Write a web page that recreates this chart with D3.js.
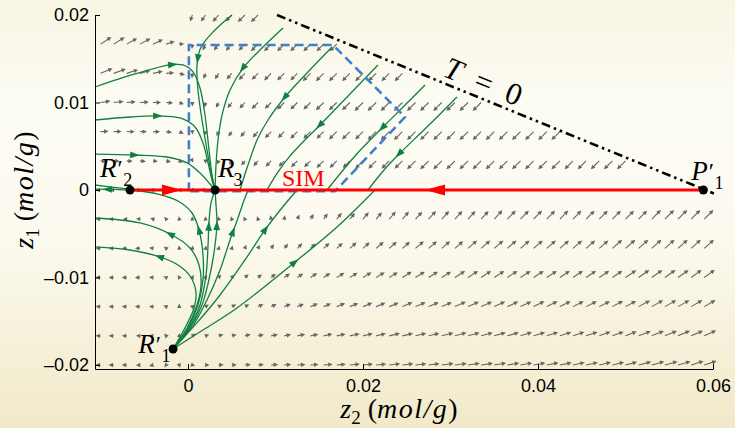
<!DOCTYPE html>
<html>
<head>
<meta charset="utf-8">
<script src="https://cdn.jsdelivr.net/npm/d3@7/dist/d3.min.js"></script>
<style>
html,body{margin:0;padding:0;background:#fbf8ea;}
svg{display:block;}
</style>
</head>
<body>
<svg id="chart" width="735" height="428"></svg>
<script>
// ================= DATA =================
const n = null;
const xTickValues = [0, 0.02, 0.04, 0.06];
const xTickLabels = ["0", "0.02", "0.04", "0.06"];
const yTickValues = [-0.02, -0.01, 0, 0.01, 0.02];
const yTickLabels = ["\u20130.02", "\u20130.01", "0", "0.01", "0.02"];

// quiver grid (z2 columns, z1 rows)
const z2Grid = [-0.01,-0.0085,-0.007,-0.0055,-0.004,-0.0025,-0.001,0.0005,0.002,0.0035,
  0.005,0.0065,0.008,0.0095,0.011,0.0125,0.014,0.0155,0.017,0.0185,
  0.02,0.0215,0.023,0.0245,0.026,0.0275,0.029,0.0305,0.032,0.0335,
  0.035,0.0365,0.038,0.0395,0.041,0.0425,0.044,0.0455,0.047,0.0485,
  0.05,0.0515,0.053,0.0545,0.056,0.0575,0.059];
const z1Grid = [0.02,0.01667,0.01333,0.01,0.00667,0.00333,0,-0.00333,-0.00667,-0.01,-0.01333,-0.01667,-0.02];

// arrow direction (degrees, counter-clockwise from +z2) per row
const fieldAngle = [
 [n,n,n,n,n,n,n,250,235,228, 226,225,225,n,n,n,n,n,n,n, n,n,n,n,n,n,n,n,n,n, n,n,n,n,n,n,n,n,n,n, n,n,n,n,n,n,n],
 [33,32,30,28,25,18,5,265,245,233, 228,226,225,225,225,225,225,225,225,n, n,n,n,n,n,n,n,n,n,n, n,n,n,n,n,n,n,n,n,n, n,n,n,n,n,n,n],
 [22,20,18,15,12,5,-15,265,252,238, 230,227,226,225,225,225,225,225,225,225, 225,225,225,225,n,n,n,n,n,n, n,n,n,n,n,n,n,n,n,n, n,n,n,n,n,n,n],
 [8,6,5,3,0,-5,-20,270,258,243, 233,228,226,225,225,225,225,225,225,225, 225,225,225,225,225,225,225,225,225,225, n,n,n,n,n,n,n,n,n,n, n,n,n,n,n,n,n],
 [2,1,0,0,-2,-8,-25,275,262,245, 235,230,227,226,225,225,225,225,225,225, 225,225,225,225,225,225,225,225,225,225, 225,225,225,225,225,225,n,n,n,n, n,n,n,n,n,n,n],
 [-3,-3,-4,-5,-8,-12,-30,300,275,250, 238,232,229,227,226,225,225,225,225,225, 225,225,225,225,225,225,225,225,225,225, 225,225,225,225,225,225,225,225,225,225, 225,n,n,n,n,n,n],
 [180,180,180,0,0,0,0,0,0,n, n,n,n,n,n,n,n,n,n,n, n,n,n,n,n,n,n,n,n,n, n,n,n,n,n,n,n,n,n,n, n,n,n,n,n,n,n],
 [180,180,180,175,160,130,100,95,95,100, 110,115,110,100,80,65,58,54,52,51, 50,50,49,49,48,48,48,47,47,47, 47,46,46,46,46,46,46,45,45,45, 45,45,45,45,45,45,45],
 [180,180,180,178,170,140,100,80,75,75, 72,68,60,54,49,46,44,43,42,42, 42,41,41,41,41,41,41,41,41,41, 41,41,41,41,41,41,41,41,41,41, 41,42,42,42,42,42,42],
 [180,180,180,180,178,160,120,65,55,50, 45,42,39,37,35,34,33,33,32,32, 32,32,32,32,32,32,32,32,33,33, 33,33,33,33,33,34,34,34,34,34, 34,35,35,35,35,36,36],
 [180,180,180,180,178,160,90,40,32,28, 26,25,24,23,22,22,22,22,22,22, 22,22,22,23,23,23,23,24,24,24, 25,25,25,26,26,26,27,27,27,28, 28,28,29,29,29,30,30],
 [180,180,180,180,175,135,80,35,20,16, 14,13,12,12,12,12,12,12,12,12, 13,13,13,13,14,14,14,15,15,15, 16,16,17,17,18,18,19,19,20,20, 21,21,22,22,23,23,24],
 [180,180,180,185,195,235,285,340,0,2, 3,4,4,4,4,4,4,4,5,5, 5,5,6,6,6,7,7,7,8,8, 9,9,10,10,11,11,12,12,13,13, 14,14,15,15,16,17,18]
];
// arrow length per row
const fieldLength = [
 [n,n,n,n,n,n,n,7,8,9, 9,10,10,n,n,n,n,n,n,n, n,n,n,n,n,n,n,n,n,n, n,n,n,n,n,n,n,n,n,n, n,n,n,n,n,n,n],
 [13,13,12,12,11,9,5,5,7,8, 9,9,10,10,10,10,10,10,10,n, n,n,n,n,n,n,n,n,n,n, n,n,n,n,n,n,n,n,n,n, n,n,n,n,n,n,n],
 [13,13,12,11,10,8,6,5,6,7, 8,9,9,10,10,10,11,11,11,11, 11,11,11,11,n,n,n,n,n,n, n,n,n,n,n,n,n,n,n,n, n,n,n,n,n,n,n],
 [10,10,9,9,8,7,5,4,5,6, 7,8,9,9,10,10,10,11,11,11, 12,12,12,12,12,12,12,12,12,12, n,n,n,n,n,n,n,n,n,n, n,n,n,n,n,n,n],
 [8,8,8,7,7,6,5,3,4,5, 6,7,8,9,9,10,10,10,11,11, 11,12,12,12,12,12,12,12,12,12, 12,12,12,12,12,12,n,n,n,n, n,n,n,n,n,n,n],
 [6,6,6,6,5,5,4,2,3,4, 5,6,7,8,8,9,9,10,10,10, 11,11,11,11,12,12,12,12,12,12, 12,12,12,12,12,12,12,12,12,12, 12,n,n,n,n,n,n],
 [5,4,2,2,4,5,5,4,2,n, n,n,n,n,n,n,n,n,n,n, n,n,n,n,n,n,n,n,n,n, n,n,n,n,n,n,n,n,n,n, n,n,n,n,n,n,n],
 [5,5,4,4,3,3,3,3,3,3, 3,3,3,4,4,5,6,7,8,8, 9,9,10,10,10,11,11,11,11,11, 12,12,12,12,12,12,12,12,12,12, 12,12,13,13,13,13,13],
 [5,5,5,5,4,3,3,3,3,3, 3,4,4,5,6,7,7,8,8,9, 9,10,10,10,11,11,11,11,12,12, 12,12,12,12,12,12,12,12,12,13, 13,13,13,13,13,13,13],
 [5,5,5,5,4,3,3,3,3,4, 4,5,5,6,7,7,8,8,9,9, 10,10,10,11,11,11,11,12,12,12, 12,12,12,12,12,12,12,12,12,12, 13,13,13,13,13,13,13],
 [5,5,5,5,4,3,3,3,4,4, 5,5,6,6,7,7,8,8,9,9, 10,10,10,11,11,11,11,12,12,12, 12,12,12,12,12,12,12,12,12,12, 12,13,13,13,13,13,13],
 [5,5,5,4,4,3,3,4,4,5, 5,6,6,7,7,8,8,9,9,10, 10,10,11,11,11,11,12,12,12,12, 12,12,12,12,12,12,12,12,12,12, 12,13,13,13,13,13,13],
 [5,5,5,4,4,3,3,3,4,5, 5,6,6,7,7,8,8,9,9,10, 10,10,11,11,11,11,12,12,12,12, 12,12,12,12,12,12,12,12,12,12, 12,13,13,13,13,13,13]
];

// trajectories [z2, z1], ordered along the flow
const trajectories = [
 [[-0.01063,0.01177],[-0.00606,0.01326],[-0.00206,0.01429],[-0.00057,0.01429],[0.00057,0.01349],[0.00137,0.01166],[0.00194,0.00857],[0.0024,0.00457],[0.00274,0.00171],[0.00309,0]],
 [[-0.01063,0.008],[-0.00663,0.00834],[-0.00354,0.00846],[-0.00091,0.00823],[0.0008,0.0072],[0.00171,0.00537],[0.00229,0.00309],[0.00274,0.00114],[0.00309,0]],
 [[-0.01063,0.00411],[-0.00606,0.004],[-0.0024,0.00377],[-0.00011,0.00309],[0.00149,0.00183],[0.00251,0.00069],[0.00309,0]],
 [[0.00503,0.02],[0.00309,0.01829],[0.00149,0.01634],[0.00103,0.01429],[0.00114,0.01143],[0.0016,0.008],[0.00217,0.00457],[0.00263,0.00206],[0.00309,0]],
 [[0.01086,0.01851],[0.00846,0.01623],[0.00629,0.01394],[0.0048,0.01143],[0.00389,0.00857],[0.00343,0.00571],[0.0032,0.00286],[0.00309,0]],
 [[0.01646,0.01634],[0.01371,0.01349],[0.01109,0.01063],[0.00914,0.008],[0.00789,0.00571],[0.00686,0.00286],[0.00629,0.00114],[0.00594,0]],
 [[0.02171,0.01429],[0.0184,0.01086],[0.01509,0.00743],[0.01303,0.00537],[0.01166,0.00389],[0.01029,0.00206],[0.00903,0]],
 [[0.02709,0.012],[0.02469,0.0096],[0.02229,0.0072],[0.01909,0.00389],[0.01589,0]],
 [[0.03074,0.01063],[0.02743,0.00731],[0.024,0.004],[0.0224,0.00229],[0.02057,0]],
 [[-0.00171,-0.01817],[0.00171,-0.016],[0.0056,-0.01349],[0.01223,-0.00823],[0.01703,-0.00423],[0.02137,0]],
 [[-0.00171,-0.01817],[0.00091,-0.01531],[0.00366,-0.012],[0.00651,-0.008],[0.0088,-0.00457],[0.01063,-0.00217],[0.01246,0]],
 [[-0.00171,-0.01817],[0.00046,-0.01566],[0.00217,-0.01257],[0.00366,-0.00914],[0.0048,-0.00571],[0.00571,-0.0032],[0.00629,-0.00149],[0.00686,0]],
 [[-0.00171,-0.01817],[0.00023,-0.01577],[0.0016,-0.01314],[0.00251,-0.00971],[0.00309,-0.00629],[0.00331,-0.00366],[0.0032,-0.00171],[0.00309,0]],
 [[-0.00171,-0.01817],[0.00011,-0.01577],[0.00137,-0.01314],[0.00206,-0.00971],[0.00229,-0.00629],[0.0024,-0.00366],[0.00263,-0.00149],[0.00309,0]],
 [[-0.00171,-0.01817],[0,-0.01577],[0.00114,-0.01314],[0.00171,-0.01029],[0.00171,-0.00743],[0.00126,-0.00457],[0.00046,-0.00263],[-0.00114,-0.00126],[-0.00343,-0.00046],[-0.00606,-0.00006],[-0.00834,0.00006],[-0.01063,0.00011]],
 [[-0.00171,-0.01817],[-0.00011,-0.01577],[0.00103,-0.01314],[0.00149,-0.01086],[0.00126,-0.00857],[0.00023,-0.00663],[-0.00206,-0.00503],[-0.00549,-0.00377],[-0.01063,-0.0032]],
 [[-0.00171,-0.01817],[-0.00023,-0.01554],[0.00069,-0.01349],[0.00091,-0.01166],[0.00023,-0.00983],[-0.00114,-0.00857],[-0.0032,-0.00766],[-0.00663,-0.00686],[-0.01063,-0.00651]],
 [[-0.00663,0.0001],[-0.0085,0.0003],[-0.01063,0.00057]]
];
const trajectoryArrowAt = [[0.36],[0.37],[0.3],[0.3],[0.31],[0.4],[0.5],[0.42],[0.63],[0.58],[0.75],[0.75],[0.79],[0.78],[0.51,0.95],[0.635],[0.64],[]];

const simLine = [[-0.00663,0],[0.0589,0]];
const simArrowTips = [-0.00069, 0.02709];
const simArrowDirs = [1, -1];
const tZeroLine = [[0.01017,0.02],[0.0601,-0.0004]];
const boxPolygon = [[0.0001,-0.00015],[0.0001,0.01657],[0.01657,0.01657],[0.0248,0.00834],[0.0168,-0.00015]];
const equilibria = [[-0.00663,0],[0.00309,0],[-0.00171,-0.01817],[0.0589,0]];
const pointLetters = ["R","R","R","P"];
const pointPrimes = [true,false,true,true];
const pointSubs = ["2","3","1","1"];
const labelAnchors = [[-0.01005,0.00149],[0.00343,0.00149],[-0.0057,-0.01863],[0.0575,0.00114]];
const simLabelAt = [0.01074,0.00046];
const tLabelAt = [0.0333,0.0113];

// ================= DRAW =================
const W = 735, H = 428;
const GREEN = "#0f8040", GRAY = "#666666", BLUE = "#3f80c6", RED = "#ff0000";
const mathFont = "'Liberation Serif','Times New Roman',serif";
const sansFont = "'Liberation Sans',Arial,Helvetica,sans-serif";
const svg = d3.select("#chart");
const defs = svg.append("defs");
const grad = defs.append("linearGradient").attr("id","bg").attr("x1",0).attr("y1",0).attr("x2",0).attr("y2",1);
[[0,"#f8f5e3"],[0.25,"#fdfcf4"],[0.55,"#fcfaef"],[1,"#f1e9c8"]].forEach(([o,c])=>grad.append("stop").attr("offset",o).attr("stop-color",c));
svg.append("rect").attr("width",W).attr("height",H).attr("fill","url(#bg)");

const x = d3.scaleLinear().domain([-0.01063,0.06]).range([95,713]);
const y = d3.scaleLinear().domain([-0.02046,0.02]).range([369,15]);
const len = d3.scaleLinear().domain([0,13]).range([0,13]);

// quiver
const gq = svg.append("g");
z1Grid.forEach((v1,r)=>{
  z2Grid.forEach((v2,k)=>{
    const a = fieldAngle[r][k], m = fieldLength[r][k];
    if(a==null || m==null) return;
    const x0 = x(v2), y0 = y(v1), L = len(m);
    const t = a*Math.PI/180, c = Math.cos(t), s = -Math.sin(t);
    const x1 = x0+L*c, y1 = y0+L*s;
    const h = 4.4, w = 2.2;
    gq.append("line").attr("x1",x0).attr("y1",y0).attr("x2",x1-c*h*0.5).attr("y2",y1-s*h*0.5)
      .attr("stroke",GRAY).attr("stroke-width",1.1);
    gq.append("path").attr("d",`M${x1},${y1}L${x1-h*c-w*s},${y1-h*s+w*c}L${x1-h*c+w*s},${y1-h*s-w*c}Z`).attr("fill",GRAY);
  });
});

// trajectories
const curve = d3.line().x(d=>x(d[0])).y(d=>y(d[1])).curve(d3.curveCatmullRom.alpha(0.5));
const gt = svg.append("g");
trajectories.forEach((pts,i)=>{
  const p = gt.append("path").attr("d",curve(pts)).attr("fill","none").attr("stroke",GREEN).attr("stroke-width",1.3);
  const node = p.node(), tot = node.getTotalLength();
  trajectoryArrowAt[i].forEach(f=>{
    const l = f*tot;
    const p1 = node.getPointAtLength(Math.max(0,l-2)), p2 = node.getPointAtLength(Math.min(tot,l+2));
    const ang = Math.atan2(p2.y-p1.y,p2.x-p1.x)*180/Math.PI;
    gt.append("path").attr("d","M5,0L-4.5,-3.4L-4.5,3.4Z")
      .attr("transform",`translate(${(p1.x+p2.x)/2},${(p1.y+p2.y)/2}) rotate(${ang})`).attr("fill",GREEN);
  });
});

// dashed region
svg.append("path").attr("d",d3.line().x(d=>x(d[0])).y(d=>y(d[1]))(boxPolygon)+"Z")
  .attr("fill","none").attr("stroke",BLUE).attr("stroke-width",2.6).attr("stroke-dasharray","9,5");

// SIM
svg.append("line").attr("x1",x(simLine[0][0])).attr("y1",y(simLine[0][1])).attr("x2",x(simLine[1][0])).attr("y2",y(simLine[1][1]))
  .attr("stroke",RED).attr("stroke-width",3);
simArrowTips.forEach((tip,i)=>{
  const tx = x(tip), ty = y(0), d = simArrowDirs[i];
  svg.append("path").attr("d",`M${tx},${ty}L${tx-d*20},${ty-5.5}L${tx-d*20},${ty+5.5}Z`).attr("fill",RED);
});

// T = 0 line
svg.append("line").attr("x1",x(tZeroLine[0][0])).attr("y1",y(tZeroLine[0][1])).attr("x2",x(tZeroLine[1][0])).attr("y2",y(tZeroLine[1][1]))
  .attr("stroke","#000").attr("stroke-width",2.6).attr("stroke-dasharray","9,4,2.5,4,2.5,4");

// points
svg.append("g").selectAll("circle").data(equilibria).join("circle")
  .attr("cx",d=>x(d[0])).attr("cy",d=>y(d[1])).attr("r",4.5).attr("fill","#000");

// point labels (one text element each: letter, prime, subscript)
equilibria.forEach((pt,i)=>{
  const ax = x(labelAnchors[i][0]), ay = y(labelAnchors[i][1]);
  const t = svg.append("text").attr("x",ax).attr("y",ay).attr("font-family",mathFont).attr("font-size",27);
  t.append("tspan").attr("font-style","italic").text(pointLetters[i]);
  if(pointPrimes[i]){
    t.append("tspan").attr("font-size",24).attr("dx",1).attr("dy",-1).text("\u2032");
    t.append("tspan").attr("font-size",18).attr("dx",0.5).attr("dy",10).text(pointSubs[i]);
  } else {
    t.append("tspan").attr("font-size",18).attr("dx",-1).attr("dy",9).text(pointSubs[i]);
  }
});

// SIM label
svg.append("text").attr("x",x(simLabelAt[0])).attr("y",y(simLabelAt[1])).attr("font-family",mathFont)
  .attr("font-size",24).attr("fill",RED).text("SIM");

// T = 0 label
{
  const cx = x(tLabelAt[0]), cy = y(tLabelAt[1]);
  const t = svg.append("text").attr("x",cx).attr("y",cy).attr("text-anchor","middle").attr("font-family",mathFont)
    .attr("font-size",31).attr("transform",`rotate(22.2,${cx},${cy})`);
  t.append("tspan").attr("font-style","italic").text("T");
  t.append("tspan").text("\u2002=\u20020");
}

// axes
const yAxis = d3.axisLeft(y).tickValues(yTickValues).tickFormat((d,i)=>yTickLabels[i]).tickSizeInner(-5).tickSizeOuter(0).tickPadding(6);
const xAxis = d3.axisBottom(x).tickValues(xTickValues).tickFormat((d,i)=>xTickLabels[i]).tickSizeInner(-5).tickSizeOuter(0).tickPadding(10);
const styleAxis = g => { g.selectAll("text").attr("font-family",sansFont).attr("font-size",18).attr("fill","#000");
  g.selectAll("line,path").attr("stroke","#000"); };
svg.append("g").attr("transform",`translate(${x.range()[0]},0)`).call(yAxis).call(styleAxis);
svg.append("g").attr("transform",`translate(0,${y.range()[0]})`).call(xAxis).call(styleAxis);

// axis titles
function mathLabel(g, sub){
  g.append("tspan").attr("font-style","italic").text("z");
  g.append("tspan").attr("font-size",19).attr("dy",6).text(sub);
  g.append("tspan").attr("dy",-6).text("\u00a0(");
  g.append("tspan").attr("font-style","italic").attr("letter-spacing",1.5).text("mol/g");
  g.append("tspan").text(")");
}
mathLabel(svg.append("text").attr("x",399).attr("y",418).attr("text-anchor","middle").attr("font-family",mathFont).attr("font-size",28), "2");
mathLabel(svg.append("text").attr("transform","translate(33,190) rotate(-90)").attr("text-anchor","middle").attr("font-family",mathFont).attr("font-size",28), "1");
</script>
</body>
</html>
